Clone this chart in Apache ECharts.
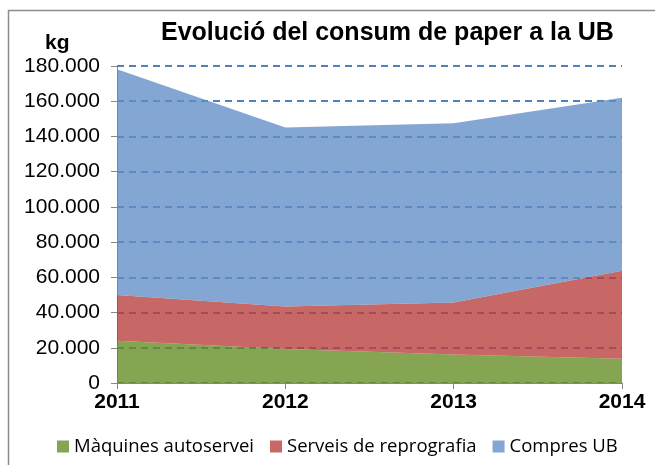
<!DOCTYPE html>
<html>
<head>
<meta charset="utf-8">
<script src="https://cdn.jsdelivr.net/npm/echarts@6/dist/echarts.min.js"></script>
<style>
  html, body { margin: 0; padding: 0; background: #fff; }
  #chart { width: 655px; height: 465px; }
</style>
</head>
<body>
<div id="chart"></div>
<script>
// dades (kg) llegides del gràfic
const anys = ['2011', '2012', '2013', '2014']
const maquines = [24000, 19300, 16200, 13800]
const reprografia = [26000, 24100, 29500, 50000]
const compres = [128100, 101700, 101800, 98200]

const chart = echarts.init(document.getElementById('chart'))

function fmt(v) {
    return String(v).replace(/\B(?=(\d{3})+(?!\d))/g, '.')
}

const option = {
    animation: false,
    textStyle: { fontFamily: 'Liberation Sans, Arial, sans-serif' },
    graphic: [
        {
            type: 'rect',
            shape: { x: 8.5, y: 10.5, width: 700, height: 500 },
            style: { fill: 'none', stroke: '#8c8c8c', lineWidth: 1.5 },
            z: -1,
        },
        {
            type: 'text',
            left: 161,
            top: 21,
            style: { text: 'Evolució del consum de paper a la UB', font: 'bold 25px Liberation Sans', fill: '#000' },
        },
        {
            type: 'text',
            left: 45,
            top: 33,
            style: { text: 'kg', font: 'bold 21px Liberation Sans', fill: '#000' },
        },
    ],
    legend: {
        top: 432,
        left: 52,
        itemWidth: 12,
        itemHeight: 12,
        itemGap: 16,
        icon: 'rect',
        textStyle: { fontFamily: 'Open Sans', fontSize: 18.5, color: '#000' },
        data: ['Màquines autoservei', 'Serveis de reprografia', 'Compres UB'],
    },
    grid: { left: 117, right: 33, top: 66, bottom: 82 },
    xAxis: {
        type: 'category',
        boundaryGap: false,
        data: anys,
        axisLine: { lineStyle: { color: '#868686' } },
        axisTick: { show: true, length: 6, lineStyle: { color: '#868686' } },
        axisLabel: { fontSize: 21, fontWeight: 'bold', color: '#000', margin: 9 },
    },
    yAxis: {
        type: 'value',
        min: 0,
        max: 180000,
        interval: 20000,
        axisLine: { show: true, lineStyle: { color: '#868686' } },
        axisTick: { show: true, length: 6, lineStyle: { color: '#868686' } },
        axisLabel: { fontSize: 21, color: '#000', margin: 17, formatter: fmt },
        splitLine: { lineStyle: { color: '#4f81bd', type: [7, 5], width: 2 } },
    },
    series: [
        {
            name: 'Màquines autoservei',
            type: 'line',
            stack: 'total',
            data: maquines,
            showSymbol: false,
            lineStyle: { width: 0 },
            itemStyle: { color: '#86a552' },
            areaStyle: { color: '#648c21', opacity: 0.78 },
        },
        {
            name: 'Serveis de reprografia',
            type: 'line',
            stack: 'total',
            data: reprografia,
            showSymbol: false,
            lineStyle: { width: 0 },
            itemStyle: { color: '#c86866' },
            areaStyle: { color: '#b83d3b', opacity: 0.78 },
        },
        {
            name: 'Compres UB',
            type: 'line',
            stack: 'total',
            data: compres,
            showSymbol: false,
            lineStyle: { width: 0 },
            itemStyle: { color: '#84a6d2' },
            areaStyle: { color: '#618dc5', opacity: 0.78 },
        },
    ],
}
chart.setOption(option)
</script>
</body>
</html>
